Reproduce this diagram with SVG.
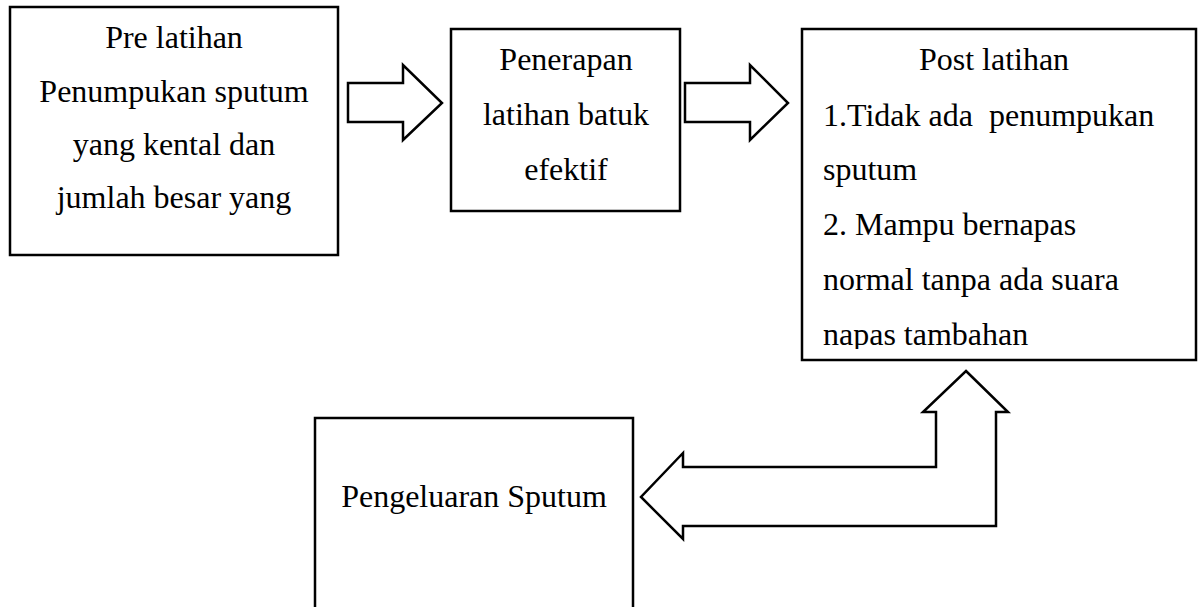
<svg xmlns="http://www.w3.org/2000/svg" width="1202" height="607" viewBox="0 0 1202 607">
<style>
.box{fill:#fff;stroke:#000;stroke-width:2.5}
.arr{fill:#fff;stroke:#000;stroke-width:2.5;stroke-linejoin:miter}
text{font-family:"Liberation Serif","Times New Roman",serif;font-size:32px;fill:#000}
.c{text-anchor:middle}
</style>
<defs>
<clipPath id="clip3"><rect x="802" y="29" width="394" height="320"/></clipPath>
</defs>
<rect width="1202" height="607" fill="#fff"/>
<g id="connectors">
<polygon class="arr" points="348,83 403,83 403,65 442,103 403,140 403,122 348,122"/>
<polygon class="arr" points="685,83 750,83 750,65 788,103 750,140 750,122 685,122"/>
<polygon class="arr" points="966,371 1008,412 996,412 996,526 683,526 683,539 641,497 683,453 683,467 936,467 936,412 923,412"/>
</g>
<g id="node-pre">
<rect class="box" x="10" y="7" width="328" height="248"/>
<text class="c" x="174" y="48">Pre latihan</text>
<text class="c" x="174" y="102">Penumpukan sputum</text>
<text class="c" x="174" y="155">yang kental dan</text>
<text class="c" x="174" y="208">jumlah besar yang</text>
</g>
<g id="node-penerapan">
<rect class="box" x="451" y="29" width="229" height="182"/>
<text class="c" x="566" y="70">Penerapan</text>
<text class="c" x="566" y="125">latihan batuk</text>
<text class="c" x="566" y="180">efektif</text>
</g>
<g id="node-post">
<rect class="box" x="802" y="29" width="394" height="331"/>
<g clip-path="url(#clip3)">
<text class="c" x="994" y="70">Post latihan</text>
<text x="823" y="126" xml:space="preserve">1.Tidak ada  penumpukan</text>
<text x="823" y="180">sputum</text>
<text x="823" y="235">2. Mampu bernapas</text>
<text x="823" y="290">normal tanpa ada suara</text>
<text x="823" y="345">napas tambahan</text>
</g>
</g>
<g id="node-pengeluaran">
<rect class="box" x="315" y="418" width="318" height="200"/>
<text class="c" x="474" y="507">Pengeluaran Sputum</text>
</g>
</svg>
